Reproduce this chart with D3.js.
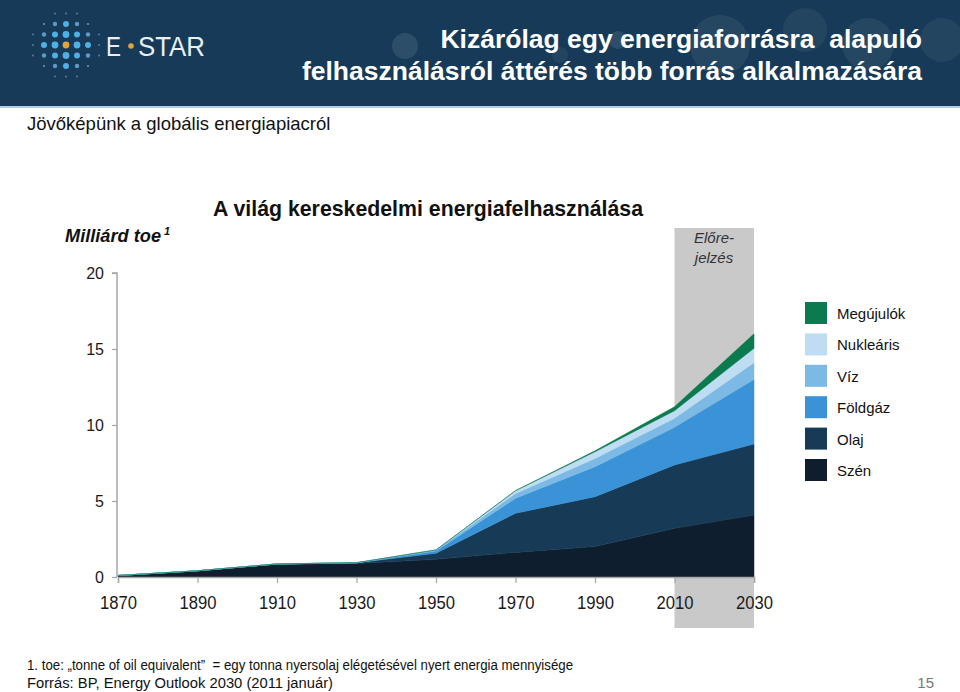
<!DOCTYPE html>
<html><head><meta charset="utf-8">
<script src="https://cdn.jsdelivr.net/npm/d3@7"></script>
<style>
body{margin:0;background:#fff;}
svg{display:block;}
text{font-family:"Liberation Sans",Arial,sans-serif;}
</style></head>
<body>
<svg id="c" width="960" height="692"></svg>
<script>
const years = [1870, 1890, 1910, 1930, 1950, 1970, 1990, 2010, 2030];
const szen       = [0.10, 0.40, 0.83, 0.88, 1.16, 1.62, 2.00, 3.20, 4.08];
const olaj       = [0.00, 0.01, 0.03, 0.05, 0.40, 2.57, 3.28, 4.17, 4.67];
const foldgaz    = [0.00, 0.00, 0.00, 0.01, 0.15, 0.99, 1.98, 2.48, 4.25];
const viz        = [0.00, 0.00, 0.00, 0.00, 0.07, 0.32, 0.54, 0.59, 1.10];
const nuklearis  = [0.00, 0.00, 0.00, 0.00, 0.00, 0.18, 0.44, 0.50, 0.95];
const megujulok  = [0.00, 0.00, 0.00, 0.00, 0.00, 0.00, 0.06, 0.26, 0.95];
const seriesNames = ["Szén", "Olaj", "Földgáz", "Víz", "Nukleáris", "Megújulók"];
const seriesColors = ["#0e1e2e", "#173a57", "#3a93d6", "#7cb9e4", "#bedcf2", "#0a7a4f"];
const yTicks = [0, 5, 10, 15, 20];
const xTicks = [1870, 1890, 1910, 1930, 1950, 1970, 1990, 2010, 2030];
const forecastStart = 2010, forecastEnd = 2030;

const svg = d3.select("#c");

// Header bar
svg.append("rect").attr("x",0).attr("y",0).attr("width",960).attr("height",107).attr("fill","#163a57");
svg.append("rect").attr("x",0).attr("y",106).attr("width",960).attr("height",2).attr("fill","#a8cfe3");
const bubbles = [[405,46,13,0.10],[618,40,9,0.10],[720,45,30,0.07],[805,30,22,0.06],[868,44,26,0.07],[942,40,22,0.06],[560,55,8,0.06]];
svg.append("g").selectAll("circle").data(bubbles).join("circle")
  .attr("cx",d=>d[0]).attr("cy",d=>d[1]).attr("r",d=>d[2]).attr("fill","#ffffff").attr("opacity",d=>d[3]);

// Logo dots
const logo = svg.append("g");
for (let i=-3;i<=3;i++) for (let j=-3;j<=3;j++){
  const dist = Math.abs(i)+Math.abs(j);
  const cheb = Math.max(Math.abs(i),Math.abs(j));
  if (dist>4) continue;
  let r = dist<=1?3.4:(dist<=2?3.0:(dist<=3?2.2:1.1));
  if (cheb===3) r=1.1;
  let col = (i===0&&j===0)?"#e0a43a":(dist<=2?"#4fb0e6":"#5d9ac4");
  logo.append("circle").attr("cx",66+j*11).attr("cy",45+i*10.5).attr("r",r).attr("fill",col).attr("opacity",cheb===3?0.7:1);
}
svg.append("text").attr("x",106).attr("y",56).attr("font-size",28).attr("fill","#e9eff4")
  .attr("textLength",15).attr("lengthAdjust","spacingAndGlyphs").text("E");
svg.append("circle").attr("cx",131).attr("cy",46).attr("r",2.8).attr("fill","#e0a43a");
svg.append("text").attr("x",138).attr("y",56).attr("font-size",28).attr("fill","#e9eff4")
  .attr("textLength",67).attr("lengthAdjust","spacingAndGlyphs").text("STAR");

// Header title
svg.append("text").attr("x",922).attr("y",48).attr("text-anchor","end")
  .attr("font-size",26.5).attr("font-weight","bold").attr("fill","#fff").text("Kizárólag egy energiaforrásra\u00a0 alapuló");
svg.append("text").attr("x",922).attr("y",80).attr("text-anchor","end")
  .attr("font-size",26.5).attr("font-weight","bold").attr("fill","#fff").text("felhasználásról áttérés több forrás alkalmazására");
svg.append("text").attr("x",27).attr("y",130).attr("font-size",18.5).attr("fill","#111").text("Jövőképünk a globális energiapiacról");

// Scales
const x = d3.scaleLinear().domain([1870,2030]).range([118,754]);
const y = d3.scaleLinear().domain([0,20]).range([577,273]);

// Forecast band
svg.append("rect").attr("x",x(forecastStart)).attr("y",228).attr("width",x(forecastEnd)-x(forecastStart)).attr("height",400).attr("fill","#c9c9ca");
svg.append("text").attr("x",714).attr("y",243).attr("text-anchor","middle").attr("font-size",15).attr("font-style","italic").attr("fill","#333").text("Előre-");
svg.append("text").attr("x",714).attr("y",263).attr("text-anchor","middle").attr("font-size",15).attr("font-style","italic").attr("fill","#333").text("jelzés");

// Stack
const cols = [szen, olaj, foldgaz, viz, nuklearis, megujulok];
const table = years.map((yr,i)=>{const o={year:yr}; seriesNames.forEach((n,k)=>o[n]=cols[k][i]); return o;});
const stack = d3.stack().keys(seriesNames)(table);
const area = d3.area().x(d=>x(d.data.year)).y0(d=>y(d[0])).y1(d=>y(d[1]));
svg.append("g").selectAll("path").data(stack).join("path")
  .attr("d",area).attr("fill",(d,i)=>seriesColors[i]).attr("stroke",(d,i)=>seriesColors[i]).attr("stroke-width",0.5);

// Axes
const yAxis = svg.append("g").attr("transform",`translate(${x(1870)-1},0)`)
  .call(d3.axisLeft(y).tickValues(yTicks).tickSize(5).tickPadding(8).tickFormat(d3.format("d")));
const xAxis = svg.append("g").attr("transform",`translate(0,${y(0)})`)
  .call(d3.axisBottom(x).tickValues(xTicks).tickSize(6).tickPadding(13).tickFormat(d3.format("d")));
[yAxis,xAxis].forEach(a=>{
  a.attr("font-family",null);
  a.select(".domain").attr("stroke","#a6a6a6").attr("stroke-width",1.5);
  a.selectAll(".tick line").attr("stroke","#a6a6a6").attr("stroke-width",1.2);
  a.selectAll("text").attr("fill","#1a1a1a").attr("font-weight","normal");
});
yAxis.selectAll("text").attr("font-size",16);
xAxis.selectAll("text").attr("font-size",18).attr("textLength",37).attr("lengthAdjust","spacingAndGlyphs");
yAxis.select(".domain").attr("d",`M-5,${y(20)}H0V${y(0)}`);

// Chart title & unit
svg.append("text").attr("x",428).attr("y",216).attr("text-anchor","middle")
  .attr("font-size",22).attr("font-weight","bold").attr("fill","#111")
  .attr("textLength",430).attr("lengthAdjust","spacingAndGlyphs").text("A világ kereskedelmi energiafelhasználása");
svg.append("text").attr("x",65).attr("y",242).attr("font-size",19).attr("font-weight","bold").attr("font-style","italic").attr("fill","#111")
  .attr("textLength",96).attr("lengthAdjust","spacingAndGlyphs").text("Milliárd toe");
svg.append("text").attr("x",164).attr("y",235).attr("font-size",11).attr("font-weight","bold").attr("font-style","italic").attr("fill","#111").text("1");

// Legend
const legOrder = seriesNames.map((n,i)=>({n,c:seriesColors[i]})).reverse();
const leg = svg.append("g").selectAll("g").data(legOrder).join("g").attr("transform",(d,i)=>`translate(805,${302+i*31.4})`);
leg.append("rect").attr("width",22).attr("height",22).attr("fill",d=>d.c);
leg.append("text").attr("x",32).attr("y",17).attr("font-size",15).attr("fill","#111").text(d=>d.n);

// Footnotes
svg.append("text").attr("x",27).attr("y",670).attr("font-size",15.5).attr("fill","#111")
  .attr("textLength",546).attr("lengthAdjust","spacingAndGlyphs")
  .text("1. toe: „tonne of oil equivalent”\u00a0 = egy tonna nyersolaj elégetésével nyert energia mennyisége");
svg.append("text").attr("x",27).attr("y",688).attr("font-size",15.5).attr("fill","#111")
  .attr("textLength",306).attr("lengthAdjust","spacingAndGlyphs")
  .text("Forrás: BP, Energy Outlook 2030 (2011 január)");
svg.append("text").attr("x",934).attr("y",688).attr("text-anchor","end").attr("font-size",15).attr("fill","#777").text("15");
</script>
</body></html>
